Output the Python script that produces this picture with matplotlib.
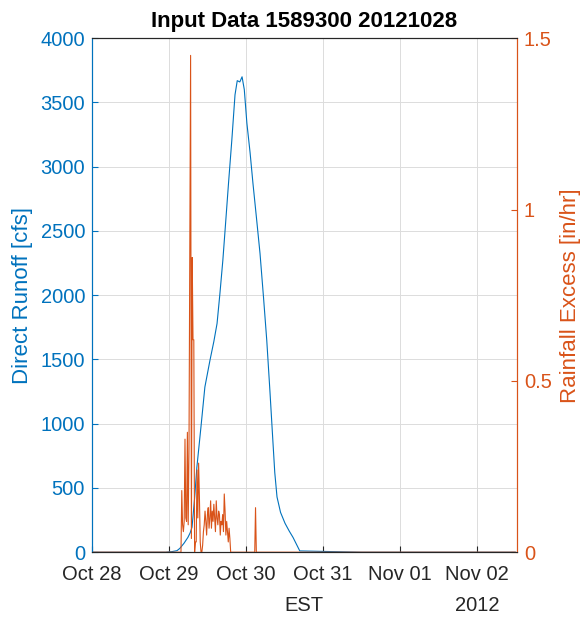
import numpy as np
import pandas as pd
import matplotlib
matplotlib.use("Agg")
import matplotlib.pyplot as plt
import matplotlib.dates as mdates

plt.rcParams['font.family'] = ['Liberation Sans', 'DejaVu Sans']

blue = '#0072BD'
orange = '#D95319'

# direct runoff [cfs], hours after 2012-10-29 00:00
runoff_hours = [-24, -1, 1.0, 2.5, 3.4, 4.7, 5.9, 6.6, 7.2, 8.0, 8.7, 10.0,
                11.2, 12.8, 14.0, 15.0, 15.9, 16.8, 17.5, 18.6, 19.6, 20.6,
                21.3, 22.1, 22.8, 23.5, 24.3, 25.3, 26.2, 27.3, 28.4, 29.5,
                30.5, 31.5, 32.4, 33.0, 33.7, 34.8, 36.2, 37.5, 38.7, 40.0,
                40.8, 60, 84, 108]
runoff_cfs = [0, 0, 5, 12, 30, 70, 115, 150, 195, 420, 660, 980,
              1285, 1495, 1640, 1780, 2015, 2270, 2505, 2880, 3205, 3560,
              3670, 3660, 3700, 3600, 3340, 3110, 2870, 2600, 2325, 1980,
              1650, 1250, 870, 620, 430, 310, 225, 165, 115, 50,
              10, 0, 0, 0]

# rainfall excess [in/hr], hours after 2012-10-29 00:00
rain_hours = [-24, 3.75, 4.0, 4.25, 4.5, 4.75, 5.0, 5.25, 5.5, 5.75, 6.0, 6.25,
              6.5, 6.75, 7.0, 7.25, 7.5, 7.75, 8.0, 8.25, 8.5, 8.75, 9.0, 9.25,
              9.5, 9.75, 10.0, 10.25, 10.5, 10.75, 11.0, 11.25, 11.5, 11.75,
              12.0, 12.25, 12.5, 12.75, 13.0, 13.25, 13.5, 13.75, 14.0, 14.25,
              14.5, 14.75, 15.0, 15.25, 15.5, 15.75, 16.0, 16.25, 16.5, 16.75,
              17.0, 17.25, 17.5, 17.75, 18.0, 18.25, 18.5, 18.75, 19.0, 19.25,
              19.5, 19.75, 20.0, 26.75, 27.0, 27.25, 27.5, 108]
rain_inhr = [0, 0, 0.18, 0.08, 0.06, 0.09, 0.33, 0.10, 0.09, 0.35, 0.08, 0.30,
             0.88, 1.45, 0.04, 0.86, 0.62, 0.62, 0.0, 0.03, 0.03, 0.24, 0.10,
             0.26, 0.16, 0.03, 0.0, 0.0, 0.02, 0.06, 0.08, 0.12, 0.09, 0.05,
             0.11, 0.13, 0.07, 0.10, 0.15, 0.07, 0.12, 0.09, 0.14, 0.10, 0.06,
             0.15, 0.10, 0.08, 0.12, 0.11, 0.05, 0.09, 0.08, 0.11, 0.06, 0.17,
             0.12, 0.05, 0.09, 0.06, 0.03, 0.07, 0.04, 0.0, 0.0, 0.0, 0.0,
             0.0, 0.13, 0.0, 0.0, 0]

t0 = pd.Timestamp('2012-10-29 00:00')
runoff_time = t0 + pd.to_timedelta(runoff_hours, unit='h')
rain_time = t0 + pd.to_timedelta(rain_hours, unit='h')

fig = plt.figure(figsize=(5.86, 6.17), dpi=100)
ax = fig.add_axes([0.157, 0.105, 0.725, 0.833])
ax2 = ax.twinx()

ax.plot(runoff_time, runoff_cfs, color=blue, lw=0.8, zorder=3)
ax2.plot(rain_time, rain_inhr, color=orange, lw=0.8)

ax.set_xlim(pd.Timestamp('2012-10-28 00:00'), pd.Timestamp('2012-11-02 12:30'))
ax.set_ylim(0, 4000)
ax2.set_ylim(0, 1.5)
ax.set_yticks(np.arange(0, 4001, 500))
ax2.set_yticks([0, 0.5, 1, 1.5])
ax2.set_yticklabels(['0', '0.5', '1', '1.5'])

ax.xaxis.set_major_locator(mdates.DayLocator())
ax.xaxis.set_major_formatter(mdates.DateFormatter('%b %d'))

ax.grid(True, color='#dcdcdc', lw=0.7)
ax.set_axisbelow(True)

fs = 14.5
ax.tick_params(axis='x', direction='in', labelsize=fs, colors='#262626', pad=9, length=4)
ax.tick_params(axis='y', direction='in', labelsize=fs, colors=blue, pad=5, length=4)
ax2.tick_params(axis='y', direction='in', labelsize=fs, colors=orange, pad=5, length=4)

for a in (ax, ax2):
    a.spines['top'].set_color('#262626')
    a.spines['bottom'].set_color('#262626')
    a.spines['left'].set_color(blue)
    a.spines['right'].set_color(orange)

ax.set_ylabel('Direct Runoff [cfs]', color=blue, fontsize=16, labelpad=5)
ax2.set_ylabel('Rainfall Excess [in/hr]', color=orange, fontsize=16, labelpad=6)
ax.set_title('Input Data 1589300 20121028', fontsize=16, fontweight='bold', pad=8)

ax.text(0.5, -0.085, 'EST', transform=ax.transAxes, ha='center', va='top',
        fontsize=fs, color='#262626')
ax.text(pd.Timestamp('2012-11-02 00:00'), -0.085, '2012',
        transform=ax.get_xaxis_transform(), ha='center', va='top',
        fontsize=fs, color='#262626')

fig.savefig('out.png', dpi=100)
